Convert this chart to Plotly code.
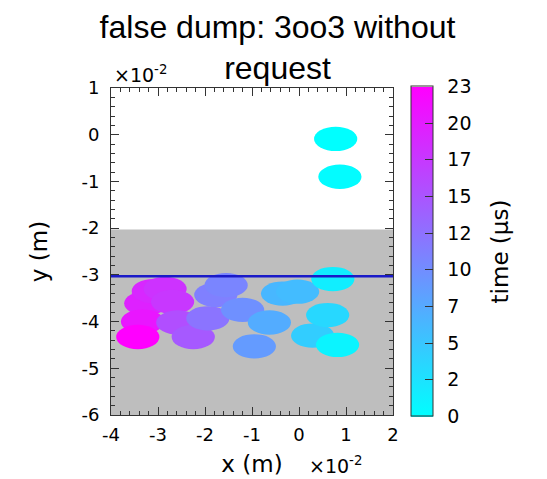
import plotly.graph_objects as go
from plotly.colors import sample_colorscale

# ---- data (units of 1e-2 m, time in microseconds) ----
x_vals = [0.78, 0.87, -3.26, -3.33, -3.43, -3.10, -2.85, -2.69, -2.58, -2.25,
          -1.94, -1.77, -1.55, -1.20, -0.95, -0.63, -0.35, -0.03, 0.29, 0.61,
          0.72, 0.82]
y_vals = [-0.09, -0.90, -3.61, -4.00, -4.33, -3.35, -3.30, -3.58, -4.02, -4.33,
          -3.93, -3.43, -3.22, -3.75, -4.53, -4.02, -3.40, -3.36, -4.30, -3.86,
          -3.09, -4.50]
t_vals = [0.0, 0.3, 20.0, 21.0, 23.0, 19.5, 18.5, 18.0, 16.0, 15.0,
          12.5, 11.5, 11.0, 10.0, 9.0, 7.5, 6.5, 6.0, 4.5, 3.5,
          1.5, 1.0]

x_ticks = [-4, -3, -2, -1, 0, 1, 2]
x_tick_labels = ["-4", "-3", "-2", "-1", "0", "1", "2"]
y_ticks = [1, 0, -1, -2, -3, -4, -5, -6]
y_tick_labels = ["1", "0", "-1", "-2", "-3", "-4", "-5", "-6"]
cbar_ticks = [0, 2.556, 5.111, 7.667, 10.222, 12.778, 15.333, 17.889, 20.444, 23]
cbar_labels = ["0", "2", "5", "7", "10", "12", "15", "17", "20", "23"]

grey_top = -2.03
line_y = -3.03
x_range = [-4, 2]
y_range = [-6, 1]
t_range = [0, 23]

# marker ellipse half-axes in data units
rx, ry = 0.46, 0.26

cool = [[0, "#00ffff"], [1, "#ff00ff"]]
pad_l = "\u2002"
pad_r = "\u2002\u2009"

fig = go.Figure()

fig.add_trace(go.Scatter(
    x=x_vals, y=y_vals, mode="markers",
    marker=dict(size=6, color=t_vals, colorscale=cool, cmin=t_range[0], cmax=t_range[1],
                opacity=0,
                colorbar=dict(
                    x=1.064, xanchor="left", xpad=0, y=0.5, yanchor="middle", ypad=0,
                    thickness=22, len=330, lenmode="pixels",
                    outlinewidth=1, outlinecolor="#333",
                    ticks="inside", ticklen=8, tickcolor="#333",
                    tickvals=cbar_ticks, ticktext=[pad_l + s + pad_r for s in cbar_labels],
                    tickfont=dict(family="DejaVu Sans", size=19, color="black"),
                    title=dict(text="time (µs)", side="right",
                               font=dict(family="DejaVu Sans", size=23, color="black")),
                )),
    showlegend=False, hoverinfo="x+y+text", text=[f"t={t} µs" for t in t_vals],
))

shapes = [dict(type="rect", xref="x", yref="y", x0=x_range[0], x1=x_range[1],
               y0=y_range[0], y1=grey_top, fillcolor="#bebebe",
               line=dict(width=0), layer="below")]

fracs = [(t - t_range[0]) / (t_range[1] - t_range[0]) for t in t_vals]
cols = sample_colorscale(cool, fracs)
for xv, yv, c in zip(x_vals, y_vals, cols):
    shapes.append(dict(type="circle", xref="x", yref="y",
                       x0=xv - rx, x1=xv + rx, y0=yv - ry, y1=yv + ry,
                       fillcolor=c, line=dict(width=0), layer="below"))

shapes.append(dict(type="line", xref="x", yref="y", x0=x_range[0], x1=x_range[1],
                   y0=line_y, y1=line_y, line=dict(color="#1a1ac8", width=2.5),
                   layer="below"))

axis_common = dict(
    showgrid=False, zeroline=False, showline=True, linecolor="#333", linewidth=1,
    mirror="ticks", ticks="inside", ticklen=8, tickcolor="#333", automargin=False,
    tickfont=dict(family="DejaVu Sans", size=18, color="black"),
    minor=dict(ticks="inside", ticklen=4, dtick=0.2, tickcolor="#333"),
)

fig.update_layout(
    width=539, height=471,
    margin=dict(l=103, r=154, t=80, b=64),
    plot_bgcolor="white", paper_bgcolor="white",
    shapes=shapes,
    title=dict(text="false dump: 3oo3 without<br>request", x=0.5, xanchor="center",
               xref="container", y=0.937, yanchor="top",
               font=dict(family="Liberation Sans", size=32, color="black")),
    xaxis=dict(range=x_range, tickvals=x_ticks, ticktext=x_tick_labels,
               ticklabelstandoff=3,
               title=dict(text="x (m)", standoff=12,
                          font=dict(family="DejaVu Sans", size=23, color="black")),
               **axis_common),
    yaxis=dict(range=y_range, tickvals=y_ticks, ticktext=y_tick_labels,
               ticklabelstandoff=7,
               title=dict(text="y (m)", standoff=27,
                          font=dict(family="DejaVu Sans", size=23, color="black")),
               **axis_common),
    annotations=[
        dict(text="×10<sup>-2</sup>", xref="paper", yref="paper", x=0.005, y=1,
             xanchor="left", yanchor="bottom", showarrow=False,
             font=dict(family="DejaVu Sans", size=19, color="black")),
        dict(text="×10<sup>-2</sup>", xref="paper", yref="paper", x=0.695, y=0,
             xanchor="left", yanchor="top", yshift=-36, showarrow=False,
             font=dict(family="DejaVu Sans", size=19, color="black")),
    ],
)

fig.write_html("out.html")
